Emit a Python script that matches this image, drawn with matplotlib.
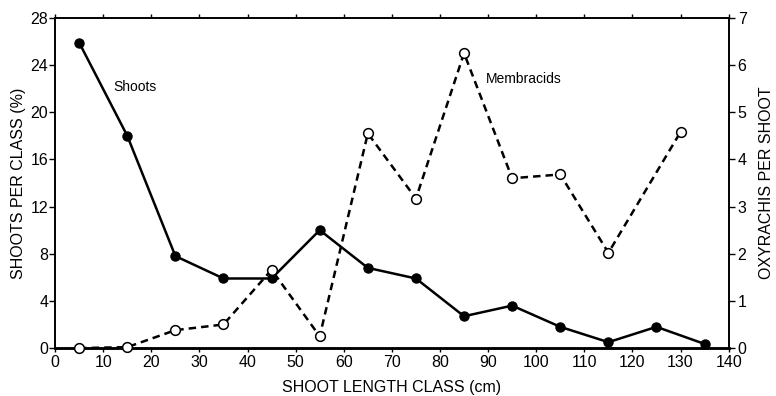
import matplotlib
matplotlib.use("Agg")
import matplotlib.pyplot as plt

plt.rcParams["font.family"] = ["Liberation Sans", "DejaVu Sans"]

# shoot length classes (cm)
shoot_x = [5, 15, 25, 35, 45, 55, 65, 75, 85, 95, 105, 115, 125, 135]
shoots_pct = [25.9, 18.0, 7.8, 5.9, 5.9, 10.0, 6.8, 5.9, 2.7, 3.6, 1.8, 0.5, 1.8, 0.35]

memb_x = [5, 15, 25, 35, 45, 55, 65, 75, 85, 95, 105, 115, 130]
memb_per_shoot = [0.0, 0.02, 0.38, 0.5, 1.66, 0.25, 4.55, 3.17, 6.25, 3.6, 3.68, 2.02, 4.58]

fig = plt.figure(figsize=(7.76, 3.96), dpi=100)
ax = fig.add_axes([0.071, 0.121, 0.868, 0.834])
ax2 = ax.twinx()

ax.plot(shoot_x, shoots_pct, color="black", lw=1.8, marker="o", ms=6.5,
        mfc="black", mec="black", zorder=3, clip_on=False)
ax2.plot(memb_x, memb_per_shoot, color="black", lw=1.8, ls=(0, (3, 2)),
         marker="o", ms=7, mfc="white", mec="black", mew=1.1, zorder=3, clip_on=False)

ax.set_xlim(0, 140)
ax.set_ylim(0, 28)
ax2.set_ylim(0, 7)
ax.set_xticks(range(0, 141, 10))
ax.set_yticks(range(0, 29, 4))
ax2.set_yticks(range(0, 8))

ax.set_xlabel("SHOOT LENGTH CLASS (cm)", fontsize=11.5, labelpad=7)
ax.set_ylabel("SHOOTS PER CLASS (%)", fontsize=11.5, labelpad=3)
ax2.set_ylabel("OXYRACHIS PER SHOOT", fontsize=11.5, labelpad=9)

ax.tick_params(axis="both", labelsize=11.5, direction="out", length=4, width=1, pad=1)
ax.tick_params(axis="x", top=True, length=3, pad=2)
ax2.tick_params(axis="y", labelsize=11.5, direction="out", length=4, width=1, pad=2.5)

for a in (ax, ax2):
    for side in ("left", "right", "top"):
        a.spines[side].set_linewidth(1.2)
    a.spines["bottom"].set_linewidth(1.8)

ax.text(12, 21.8, "Shoots", fontsize=10)
ax2.text(89.5, 5.62, "Membracids", fontsize=10)

fig.savefig("out.png", dpi=100)
